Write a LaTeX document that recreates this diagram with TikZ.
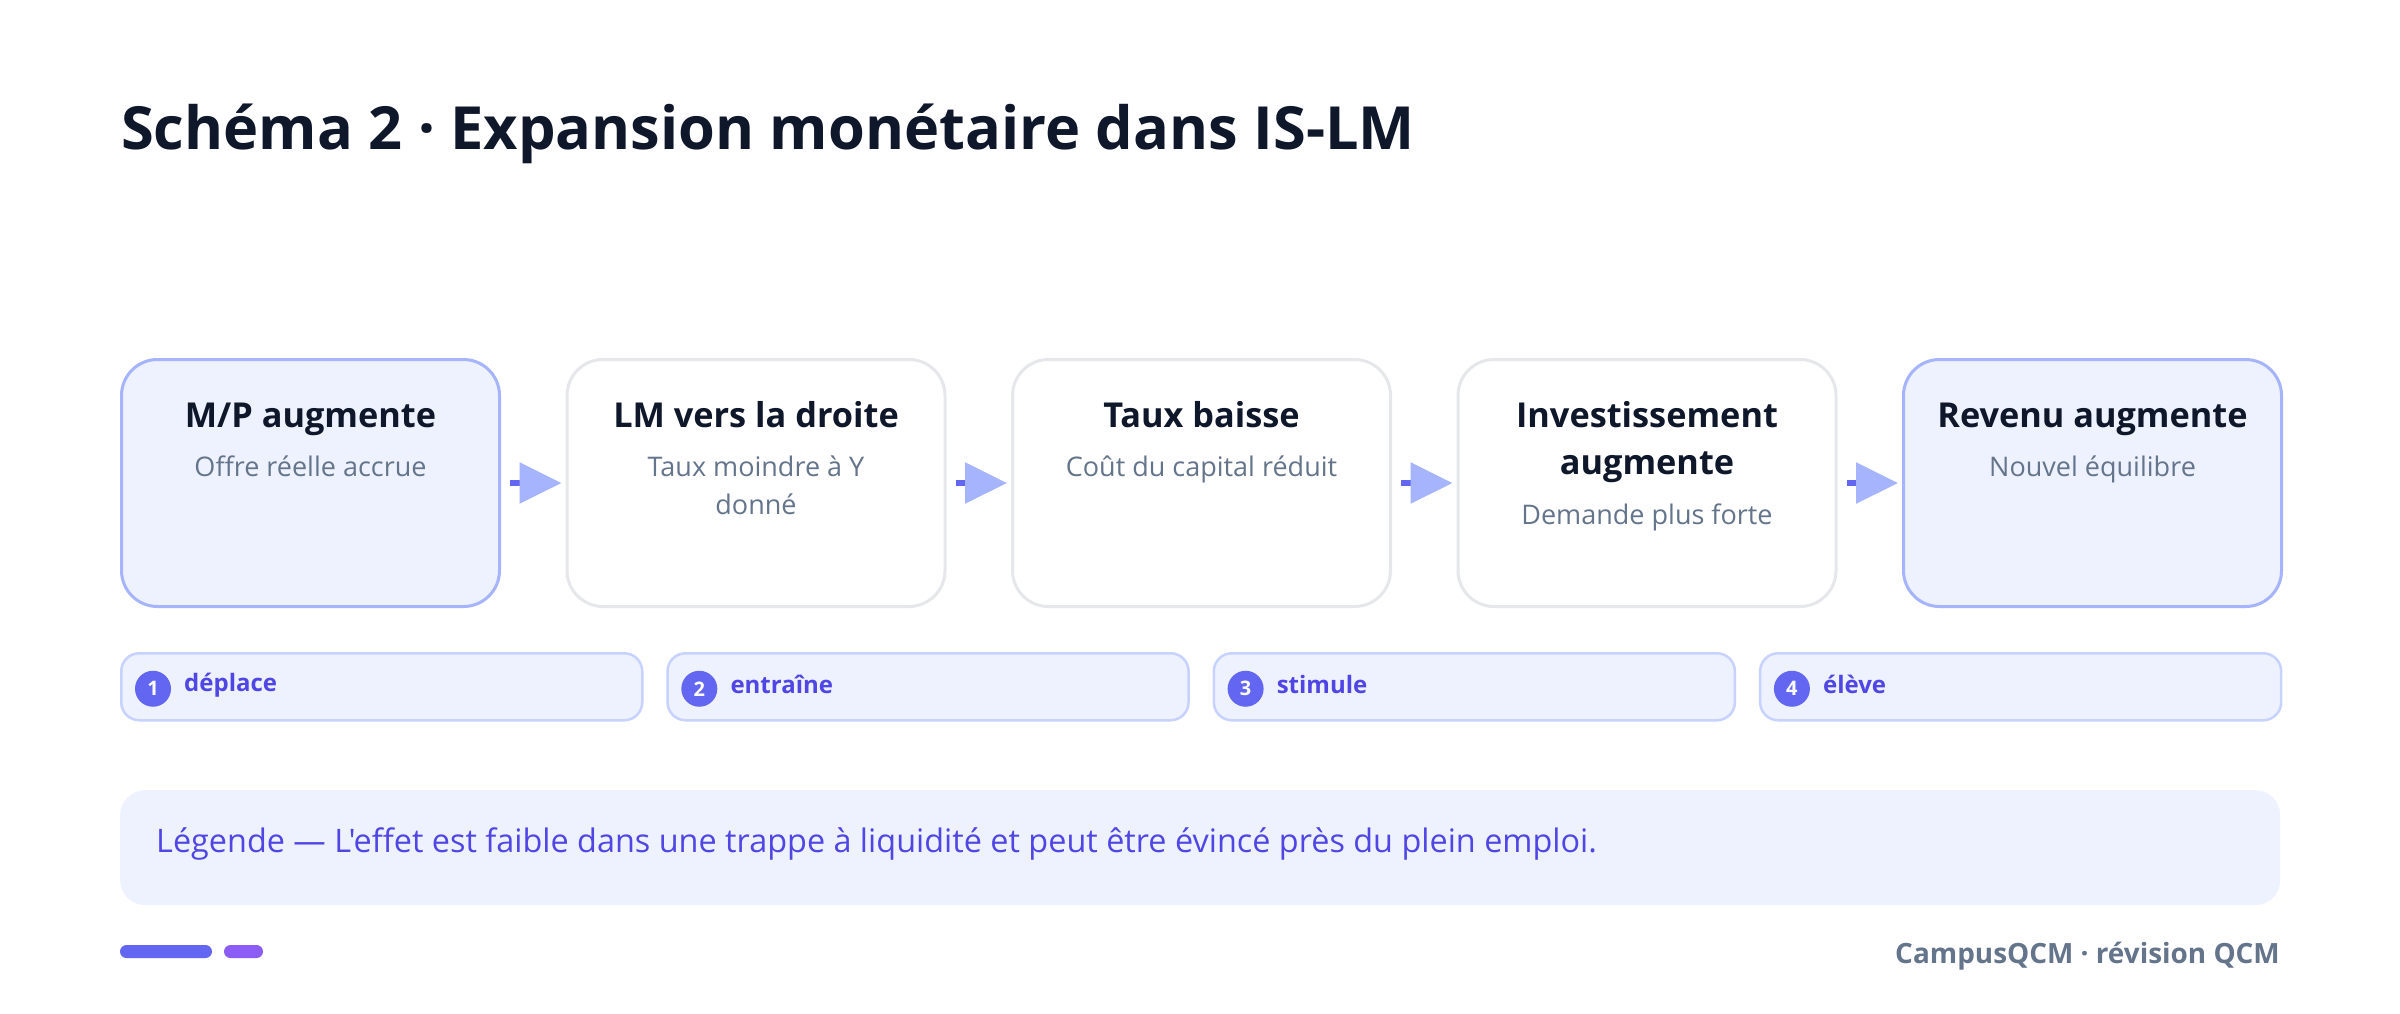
\documentclass[tikz,border=0pt]{standalone}
\usepackage{fontspec}
\setmainfont{Open Sans}[Ligatures=TeXOff]
\usetikzlibrary{arrows.meta}
\definecolor{ind500}{HTML}{6366F1}
\definecolor{ind600}{HTML}{4F46E5}
\definecolor{ind300}{HTML}{A5B4FC}
\definecolor{ind200}{HTML}{C7D2FE}
\definecolor{ind50}{HTML}{EEF2FF}
\definecolor{gray200}{HTML}{E5E7EB}
\definecolor{slate900}{HTML}{0F172A}
\definecolor{slate500}{HTML}{64748B}
\definecolor{vio500}{HTML}{8B5CF6}
\tikzset{
  stepbox/.style={draw=gray200, fill=white, line width=3pt, rounded corners=36pt,
    minimum width=378pt, minimum height=247pt, anchor=north west, inner sep=0pt},
  accentbox/.style={stepbox, draw=ind300, fill=ind50},
  ttl/.style={font=\fontsize{34.3}{40}\selectfont\bfseries, text=slate900, anchor=base, inner sep=0pt},
  subt/.style={font=\fontsize{27}{32}\selectfont, text=slate500, anchor=base, inner sep=0pt},
  flow/.style={line width=6pt, draw=ind500, shorten <=9pt, shorten >=4pt,
    -{Triangle[length=42pt,width=40pt,color=ind300,fill=ind300]}},
  pill/.style={draw=ind200, fill=ind50, line width=2.5pt, rounded corners=18pt,
    minimum width=521pt, minimum height=67pt, anchor=north west, inner sep=0pt},
  numdot/.style={circle, fill=ind500, text=white, font=\fontsize{20}{20}\selectfont\bfseries,
    minimum size=36pt, inner sep=0pt},
  plabel/.style={font=\fontsize{24}{28}\selectfont\bfseries, text=ind600, anchor=west, inner sep=0pt},
}
\begin{document}
\begin{tikzpicture}[x=1pt,y=-1pt]
\useasboundingbox (0,0) rectangle (2400,1013);
\fill[white] (0,0) rectangle (2400,1013);
% title
\node[anchor=base west, inner sep=0pt, font=\fontsize{59.5}{66}\selectfont\bfseries, text=slate900]
  (title) at (121,149) {Schéma 2 · Expansion monétaire dans IS-LM};
% boxes
\node[accentbox] (b1) at (120,358) {};
\node[stepbox]   (b2) at (565.5,358) {};
\node[stepbox]   (b3) at (1011,358) {};
\node[stepbox]   (b4) at (1456.5,358) {};
\node[accentbox] (b5) at (1902,358) {};
% box texts
\node[ttl] (t1) at ([yshift=-69pt]b1.north) {M/P augmente};
\node[subt] (s1) at ([yshift=-118pt]b1.north) {Offre réelle accrue};
\node[ttl] (t2) at ([yshift=-69pt]b2.north) {LM vers la droite};
\node[subt] (s2a) at ([yshift=-118pt]b2.north) {Taux moindre à Y};
\node[subt] (s2b) at ([yshift=-156pt]b2.north) {donné};
\node[ttl] (t3) at ([yshift=-69pt]b3.north) {Taux baisse};
\node[subt] (s3) at ([yshift=-118pt]b3.north) {Coût du capital réduit};
\node[ttl] (t4a) at ([yshift=-69pt]b4.north) {Investissement};
\node[ttl] (t4b) at ([yshift=-116pt]b4.north) {augmente};
\node[subt] (s4) at ([yshift=-166pt]b4.north) {Demande plus forte};
\node[ttl] (t5) at ([yshift=-69pt]b5.north) {Revenu augmente};
\node[subt] (s5) at ([yshift=-118pt]b5.north) {Nouvel équilibre};
% connectors
\draw[flow] (b1.east) -- (b2.west);
\draw[flow] (b2.east) -- (b3.west);
\draw[flow] (b3.east) -- (b4.west);
\draw[flow] (b4.east) -- (b5.west);
% pills
\node[pill] (p1) at (120,652) {};
\node[pill] (p2) at (666.3,652) {};
\node[pill] (p3) at (1212.6,652) {};
\node[pill] (p4) at (1758.9,652) {};
\foreach \i/\w in {1/déplace,2/entraîne,3/stimule,4/élève}{
  \node[numdot] (n\i) at ([xshift=33pt,yshift=-2pt]p\i.west) {\i};
  \node[plabel] (l\i) at ([xshift=64pt,yshift=2pt]p\i.west) {\w};
}
% legend
\node[fill=ind50, rounded corners=25pt, minimum width=2160pt, minimum height=115pt,
  anchor=north west, inner sep=0pt] (leg) at (120,790) {};
\node[anchor=west, inner sep=0pt, font=\fontsize{32.4}{38}\selectfont, text=ind600]
  (legt) at ([xshift=36pt,yshift=4pt]leg.west)
  {Légende — L'effet est faible dans une trappe à liquidité et peut être évincé près du plein emploi.};
% footer
\fill[ind500, rounded corners=6.5pt] (120,945) rectangle (212,958);
\fill[vio500, rounded corners=6.5pt] (224,945) rectangle (263,958);
\node[anchor=east, inner sep=0pt, font=\fontsize{27.9}{32}\selectfont\bfseries, text=slate500]
  (foot) at (2280,956) {CampusQCM · révision QCM};
\end{tikzpicture}
\end{document}
